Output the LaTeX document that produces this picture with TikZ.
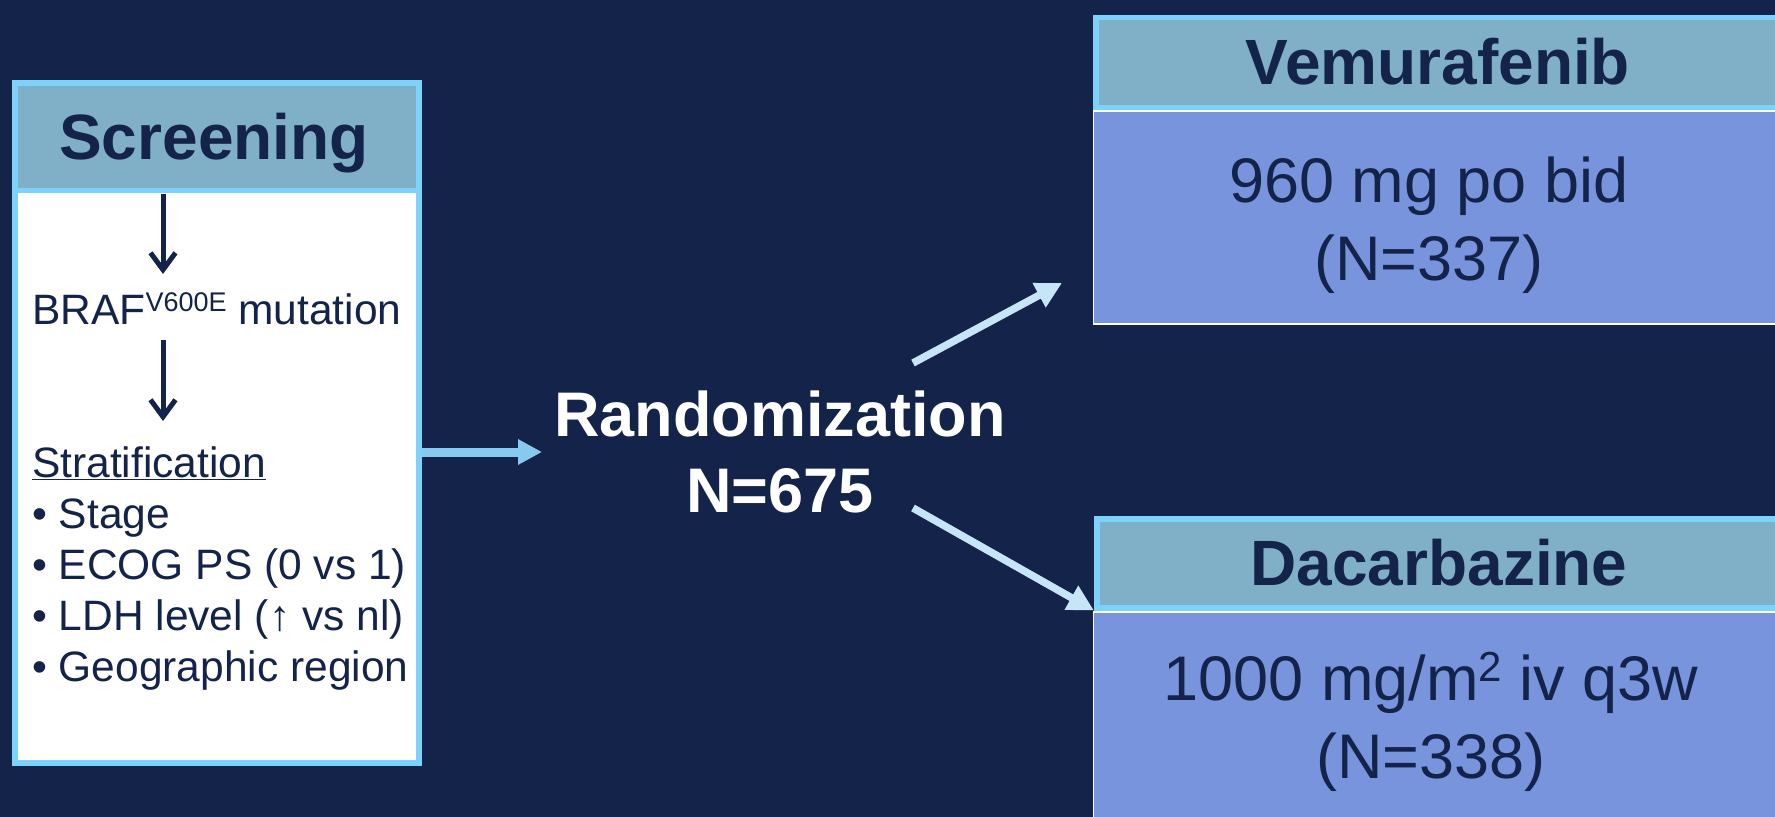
\documentclass[tikz,border=0pt]{standalone}
\usepackage{fontspec}
\setmainfont{Liberation Sans}
\usetikzlibrary{arrows.meta}
\definecolor{bgnavy}{HTML}{13234A}
\definecolor{txtnavy}{HTML}{14234A}
\definecolor{lblue}{HTML}{7DD2FB}
\definecolor{teal}{HTML}{7FB0C7}
\definecolor{bodyblue}{HTML}{7894DC}
\definecolor{harrowc}{HTML}{86CBEF}
\definecolor{darrowc}{HTML}{C6E6F8}
\begin{document}
\begin{tikzpicture}[x=1bp,y=-1bp,
  hdrbox/.style={draw=lblue,line width=5.5bp,fill=teal},
  scrbodybox/.style={draw=lblue,line width=5.5bp,fill=white},
  armbody/.style={draw=white,line width=1.5bp,fill=bodyblue},
  hdrtext/.style={font=\fontsize{64bp}{70bp}\selectfont\bfseries,text=txtnavy,inner sep=0pt,anchor=base},
  armtext/.style={font=\fontsize{63bp}{70bp}\selectfont,text=txtnavy,inner sep=0pt,anchor=base},
  listtext/.style={font=\fontsize{42.5bp}{51bp}\selectfont,text=txtnavy,inner sep=0pt,anchor=base west},
  randtext/.style={font=\fontsize{63bp}{76bp}\selectfont\bfseries,text=white,inner sep=0pt,align=center},
  inarrow/.style={draw=txtnavy,line width=5bp,-{Straight Barb[length=17bp,width=25bp]}},
  harrow/.style={draw=harrowc,line width=9bp,-{Triangle[length=24bp,width=24bp]}},
  darrow/.style={draw=darrowc,line width=7.5bp,-{Triangle[length=26bp,width=26bp]}}
]
\fill[bgnavy] (0,0) rectangle (1775,817);
\useasboundingbox (0,0) rectangle (1775,817);
\begin{scope}
\clip (0,0) rectangle (1775,817);

% Screening box
\node[scrbodybox,minimum width=404bp,minimum height=572.5bp,anchor=north west,inner sep=0pt] (scrbody) at (12,187.5) {};
\node[hdrbox,minimum width=404bp,minimum height=107.5bp,anchor=north west,inner sep=0pt] (scrhead) at (12,80) {};
\node[hdrtext] (scrtitle) at (214,159) {Screening};

\coordinate (a1top) at (163,194);
\coordinate (a1bot) at (163,274);
\coordinate (a2top) at (163,340);
\coordinate (a2bot) at (163,421);
\draw[inarrow] (a1top) -- (a1bot);
\draw[inarrow] (a2top) -- (a2bot);

\node[listtext] (braf) at (32,324) {BRAF{\fontsize{27bp}{27bp}\selectfont\raisebox{13bp}{V600E}} mutation};
\node[listtext] (strat) at (32,477) {\underline{Stratification}};
\node[listtext] (b1) at (32,528) {\textbullet\ Stage};
\node[listtext] (b2) at (32,579) {\textbullet\ ECOG PS (0 vs 1)};
\node[listtext] (b3) at (32,630) {\textbullet\ LDH level (↑ vs nl)};
\node[listtext] (b4) at (32,681) {\textbullet\ Geographic region};

% Randomization
\node[randtext] (rand) at (780,452) {Randomization\\N=675};
\draw[harrow] (scrbody.east |- rand.west) -- ([xshift=-12bp]rand.west);

% Vemurafenib arm
\node[armbody,minimum width=700bp,minimum height=213bp,anchor=north west,inner sep=0pt] (vbody) at (1092.5,110) {};
\node[hdrbox,minimum width=700bp,minimum height=89.5bp,anchor=north west,inner sep=0pt] (vhead) at (1093,15) {};
\node[hdrtext] (vtitle) at (1438,85) {Vemurafenib};
\node[armtext] (vdose) at (1429,202) {960 mg po bid};
\node[armtext] (vn) at (1429,280) {(N=337)};

% Dacarbazine arm
\node[armbody,minimum width=700bp,minimum height=220bp,anchor=north west,inner sep=0pt] (dbody) at (1092.5,611) {};
\node[hdrbox,minimum width=700bp,minimum height=89bp,anchor=north west,inner sep=0pt] (dhead) at (1094,516) {};
\node[hdrtext] (dtitle) at (1439,585) {Dacarbazine};
\node[armtext] (ddose) at (1431,700) {1000 mg/m{\fontsize{42bp}{42bp}\selectfont\raisebox{19bp}{2}} iv q3w};
\node[armtext] (dn) at (1431,778) {(N=338)};

% diagonal arrows
\coordinate (upS) at (913,363);
\coordinate (upE) at (1062,283);
\coordinate (dnS) at (913,508);
\draw[darrow] (upS) -- (upE);
\draw[darrow] (dnS) -- (dhead.south west);
\end{scope}
\end{tikzpicture}
\end{document}
